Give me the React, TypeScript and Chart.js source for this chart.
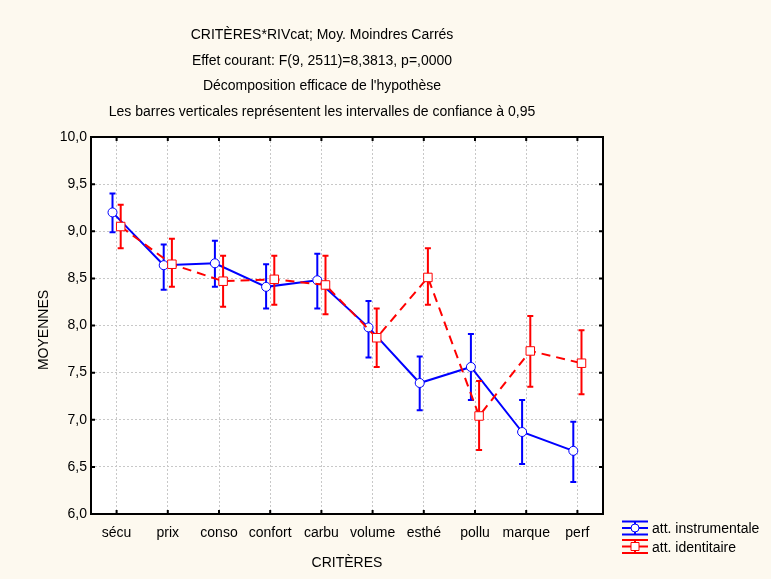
import { useEffect, useRef } from "react";
import { Chart, registerables } from "chart.js";

Chart.register(...registerables);

const categories = ["sécu", "prix", "conso", "confort", "carbu", "volume", "esthé", "pollu", "marque", "perf"];
const instrMean = [9.2, 8.64, 8.66, 8.41, 8.48, 7.98, 7.39, 7.56, 6.87, 6.67];
const instrLow = [8.99, 8.38, 8.41, 8.18, 8.18, 7.66, 7.1, 7.21, 6.53, 6.34];
const instrHigh = [9.4, 8.86, 8.9, 8.65, 8.76, 8.26, 7.67, 7.91, 7.21, 6.98];
const identMean = [9.05, 8.65, 8.47, 8.49, 8.43, 7.87, 8.51, 7.04, 7.73, 7.6];
const identLow = [8.82, 8.41, 8.2, 8.22, 8.12, 7.56, 8.22, 6.68, 7.35, 7.27];
const identHigh = [9.28, 8.92, 8.74, 8.74, 8.74, 8.18, 8.82, 7.41, 8.1, 7.95];
const yTicks = [6.0, 6.5, 7.0, 7.5, 8.0, 8.5, 9.0, 9.5, 10.0];
const titleLines = [
  "CRITÈRES*RIVcat; Moy. Moindres Carrés",
  "Effet courant: F(9, 2511)=8,3813, p=,0000",
  "Décomposition efficace de l'hypothèse",
  "Les barres verticales représentent les intervalles de confiance à 0,95",
];
const seriesNames = ["att. instrumentale", "att. identitaire"];
const xAxisTitle = "CRITÈRES";
const yAxisTitle = "MOYENNES";

const BLUE = "#0000ff";
const RED = "#ff0000";
const BG = "#fdf9ef";
const FONT = "14px 'Liberation Sans', Arial, sans-serif";

export default function App() {
  const ref = useRef<HTMLCanvasElement | null>(null);

  useEffect(() => {
    document.body.style.margin = "0";
    document.body.style.background = BG;
    const canvas = ref.current;
    if (!canvas) return;

    const errorBars = [
      { low: identLow, high: identHigh, color: RED },
      { low: instrLow, high: instrHigh, color: BLUE },
    ];

    const plugin = {
      id: "statDecor",
      beforeDraw(chart: any) {
        const { ctx, chartArea: a } = chart;
        ctx.save();
        ctx.fillStyle = BG;
        ctx.fillRect(0, 0, chart.width, chart.height);
        ctx.fillStyle = "#ffffff";
        ctx.fillRect(a.left, a.top, a.right - a.left, a.bottom - a.top);
        ctx.restore();
      },
      beforeDatasetDraw(chart: any, args: any) {
        const eb = errorBars[args.index];
        if (!eb) return;
        const { ctx } = chart;
        const ys = chart.scales.y;
        ctx.save();
        ctx.strokeStyle = eb.color;
        ctx.lineWidth = 2;
        args.meta.data.forEach((pt: any, i: number) => {
          const x = pt.x;
          const yl = ys.getPixelForValue(eb.low[i]);
          const yh = ys.getPixelForValue(eb.high[i]);
          ctx.beginPath();
          ctx.moveTo(x, yl);
          ctx.lineTo(x, yh);
          ctx.moveTo(x - 3, yl);
          ctx.lineTo(x + 3, yl);
          ctx.moveTo(x - 3, yh);
          ctx.lineTo(x + 3, yh);
          ctx.stroke();
        });
        ctx.restore();
      },
      afterDraw(chart: any) {
        const { ctx, chartArea: a } = chart;
        const xs = chart.scales.x;
        const ys = chart.scales.y;
        ctx.save();
        // frame
        ctx.strokeStyle = "#000";
        ctx.lineWidth = 2;
        ctx.strokeRect(a.left, a.top, a.right - a.left, a.bottom - a.top);
        // inside ticks
        ctx.lineWidth = 2;
        ctx.beginPath();
        ys.ticks.forEach((t: any) => {
          const y = ys.getPixelForValue(t.value);
          ctx.moveTo(a.left, y);
          ctx.lineTo(a.left + 4, y);
          ctx.moveTo(a.right, y);
          ctx.lineTo(a.right - 4, y);
        });
        xs.ticks.forEach((t: any) => {
          const x = xs.getPixelForValue(t.value);
          ctx.moveTo(x, a.bottom);
          ctx.lineTo(x, a.bottom - 4);
          ctx.moveTo(x, a.top);
          ctx.lineTo(x, a.top + 4);
        });
        ctx.stroke();

        // titles
        ctx.fillStyle = "#000";
        ctx.font = FONT;
        ctx.textAlign = "center";
        ctx.textBaseline = "alphabetic";
        titleLines.forEach((line, i) => {
          ctx.fillText(line, 322, 39 + i * 25.6);
        });
        ctx.fillText(xAxisTitle, (a.left + a.right) / 2, 567);
        ctx.save();
        ctx.translate(48, 330);
        ctx.rotate(-Math.PI / 2);
        ctx.fillText(yAxisTitle, 0, 0);
        ctx.restore();

        // legend
        const items = [
          { color: BLUE, y: 528, marker: "circle" },
          { color: RED, y: 546.5, marker: "rect" },
        ];
        items.forEach((it, i) => {
          const x0 = 622;
          const x1 = 648;
          const cx = 635;
          ctx.strokeStyle = it.color;
          ctx.lineWidth = 2;
          ctx.beginPath();
          ctx.moveTo(x0, it.y - 6.5);
          ctx.lineTo(x1, it.y - 6.5);
          ctx.moveTo(x0, it.y);
          ctx.lineTo(x1, it.y);
          ctx.moveTo(x0, it.y + 6.5);
          ctx.lineTo(x1, it.y + 6.5);
          ctx.moveTo(cx, it.y - 6.5);
          ctx.lineTo(cx, it.y + 6.5);
          ctx.stroke();
          ctx.fillStyle = "#fff";
          ctx.lineWidth = 1;
          ctx.beginPath();
          if (it.marker === "circle") {
            ctx.arc(cx, it.y, 4, 0, Math.PI * 2);
          } else {
            ctx.rect(cx - 4, it.y - 4, 8, 8);
          }
          ctx.fill();
          ctx.stroke();
          ctx.fillStyle = "#000";
          ctx.textAlign = "left";
          ctx.font = FONT;
          ctx.fillText(seriesNames[i], 652, it.y + 5);
        });
        ctx.restore();
      },
    };

    const chart = new Chart(canvas, {
      type: "line",
      data: {
        datasets: [
          {
            label: seriesNames[1],
            data: identMean.map((v, i) => ({ x: i + 0.08, y: v })),
            borderColor: RED,
            borderWidth: 2,
            borderDash: [9, 6],
            pointStyle: "rect",
            pointRadius: 6,
            pointBackgroundColor: "#fff",
            pointBorderColor: RED,
            pointBorderWidth: 1,
            order: 0,
          },
          {
            label: seriesNames[0],
            data: instrMean.map((v, i) => ({ x: i - 0.08, y: v })),
            borderColor: BLUE,
            borderWidth: 2,
            pointStyle: "circle",
            pointRadius: 4.5,
            pointBackgroundColor: "#fff",
            pointBorderColor: BLUE,
            pointBorderWidth: 1,
            order: 1,
          },
        ],
      },
      options: {
        responsive: false,
        animation: false,
        layout: { padding: { top: 137, right: 168, left: 0, bottom: 0 } },
        plugins: {
          legend: { display: false },
          title: { display: false },
          tooltip: { enabled: false },
        },
        scales: {
          x: {
            type: "linear",
            min: -0.5,
            max: 9.5,
            afterBuildTicks: (s: any) => {
              s.ticks = categories.map((_, i) => ({ value: i }));
            },
            afterFit: (s: any) => {
              s.height = 65;
            },
            ticks: {
              autoSkip: false,
              maxRotation: 0,
              padding: 11,
              color: "#000",
              font: { family: "'Liberation Sans', Arial, sans-serif", size: 14 },
              callback: (v: any) => categories[Math.round(Number(v))] ?? "",
            },
            grid: { color: "#c8c8c8", lineWidth: 1, drawTicks: false },
            border: { display: false, dash: [2, 2] },
          },
          y: {
            type: "linear",
            min: 6,
            max: 10,
            afterBuildTicks: (s: any) => {
              s.ticks = yTicks.map((v) => ({ value: v }));
            },
            afterFit: (s: any) => {
              s.width = 91;
            },
            ticks: {
              padding: 4,
              color: "#000",
              font: { family: "'Liberation Sans', Arial, sans-serif", size: 14 },
              callback: (v: any) => Number(v).toFixed(1).replace(".", ","),
            },
            grid: { color: "#c8c8c8", lineWidth: 1, drawTicks: false },
            border: { display: false, dash: [2, 2] },
          },
        },
      },
      plugins: [plugin],
    });

    return () => chart.destroy();
  }, []);

  return (
    <div style={{ width: 771, height: 579, background: BG }}>
      <canvas ref={ref} width={771} height={579} style={{ display: "block", width: 771, height: 579 }} />
    </div>
  );
}
